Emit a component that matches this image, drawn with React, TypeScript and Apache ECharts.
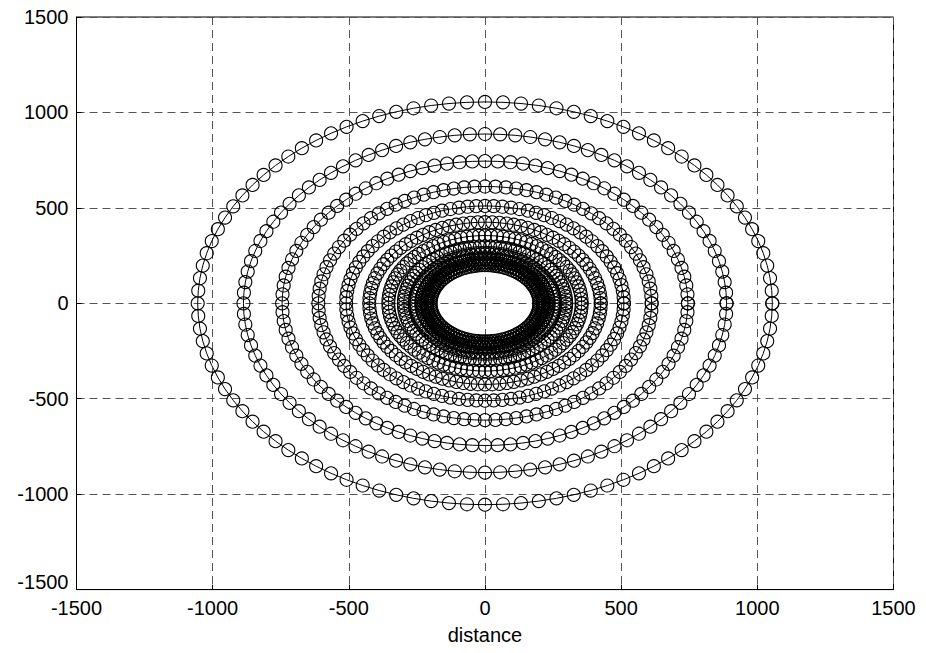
import React, { useEffect, useRef } from "react";
import * as echarts from "echarts";

// Ring radii (distance units), outermost first
const ringRadii: number[] = [1055, 887, 745, 612, 510, 425, 355, 298, 258, 232, 214, 200];
// Number of markers per ring (angular step of 3.6 degrees)
const pointsPerRing = 100;
const xTicks: number[] = [-1500, -1000, -500, 0, 500, 1000, 1500];
const yTicks: number[] = [-1500, -1000, -500, 0, 500, 1000, 1500];
const xAxisTitle = "distance";

function ringPoints(r: number): number[][] {
  const pts: number[][] = [];
  for (let k = 0; k <= pointsPerRing; k++) {
    const a = (2 * Math.PI * k) / pointsPerRing;
    pts.push([r * Math.cos(a), r * Math.sin(a)]);
  }
  return pts;
}

export default function App() {
  const ref = useRef<HTMLDivElement>(null);
  useEffect(() => {
    if (!ref.current) return;
    const chart = echarts.init(ref.current, undefined, { renderer: "svg" });
    const font = "'Liberation Sans', Arial, sans-serif";
    const series = ringRadii.map((r, i) => ({
      type: "line",
      name: "ring" + i,
      data: ringPoints(r),
      symbol: "circle",
      symbolSize: 13,
      showSymbol: true,
      lineStyle: { color: "#000", width: 1 },
      itemStyle: { color: "rgba(0,0,0,0)", borderColor: "#000", borderWidth: 1.1 },
      emphasis: { disabled: true },
      silent: true,
      z: 3,
    }));
    chart.setOption({
      animation: false,
      backgroundColor: "#fff",
      grid: {
        left: 76.5,
        right: 32.5,
        top: 17,
        bottom: 63.4,
        show: true,
        borderColor: "#000",
        borderWidth: 1,
        backgroundColor: "#fff",
      },
      xAxis: {
        type: "value",
        min: xTicks[0],
        max: xTicks[xTicks.length - 1],
        interval: 500,
        name: xAxisTitle,
        nameLocation: "middle",
        nameGap: 35,
        nameTextStyle: { color: "#000", fontSize: 20, fontFamily: font },
        axisLine: { show: true, onZero: false, lineStyle: { color: "#000", width: 1 } },
        axisTick: { show: true, inside: true, length: 5, lineStyle: { color: "#000" } },
        axisLabel: {
          color: "#000",
          fontSize: 20,
          fontFamily: font,
          margin: 8,
          formatter: (v: number) => String(v),
        },
        splitLine: { show: true, lineStyle: { color: "#555", width: 1, type: [8, 5] } },
      },
      yAxis: {
        type: "value",
        min: yTicks[0],
        max: yTicks[yTicks.length - 1],
        interval: 500,
        axisLine: { show: true, onZero: false, lineStyle: { color: "#000", width: 1 } },
        axisTick: { show: true, inside: true, length: 5, lineStyle: { color: "#000" } },
        axisLabel: {
          color: "#000",
          fontSize: 20,
          fontFamily: font,
          margin: 8,
          formatter: (v: number) => (v === yTicks[0] ? "{low|" + v + "}" : String(v)),
          rich: {
            low: { fontSize: 20, fontFamily: font, color: "#000", padding: [0, 0, 16, 0] },
          },
        },
        splitLine: { show: true, lineStyle: { color: "#555", width: 1, type: [8, 5] } },
      },
      series,
    });
    return () => chart.dispose();
  }, []);
  return (
    <div
      ref={ref}
      style={{ position: "fixed", left: 0, top: 0, width: 926, height: 653, background: "#fff" }}
    />
  );
}
